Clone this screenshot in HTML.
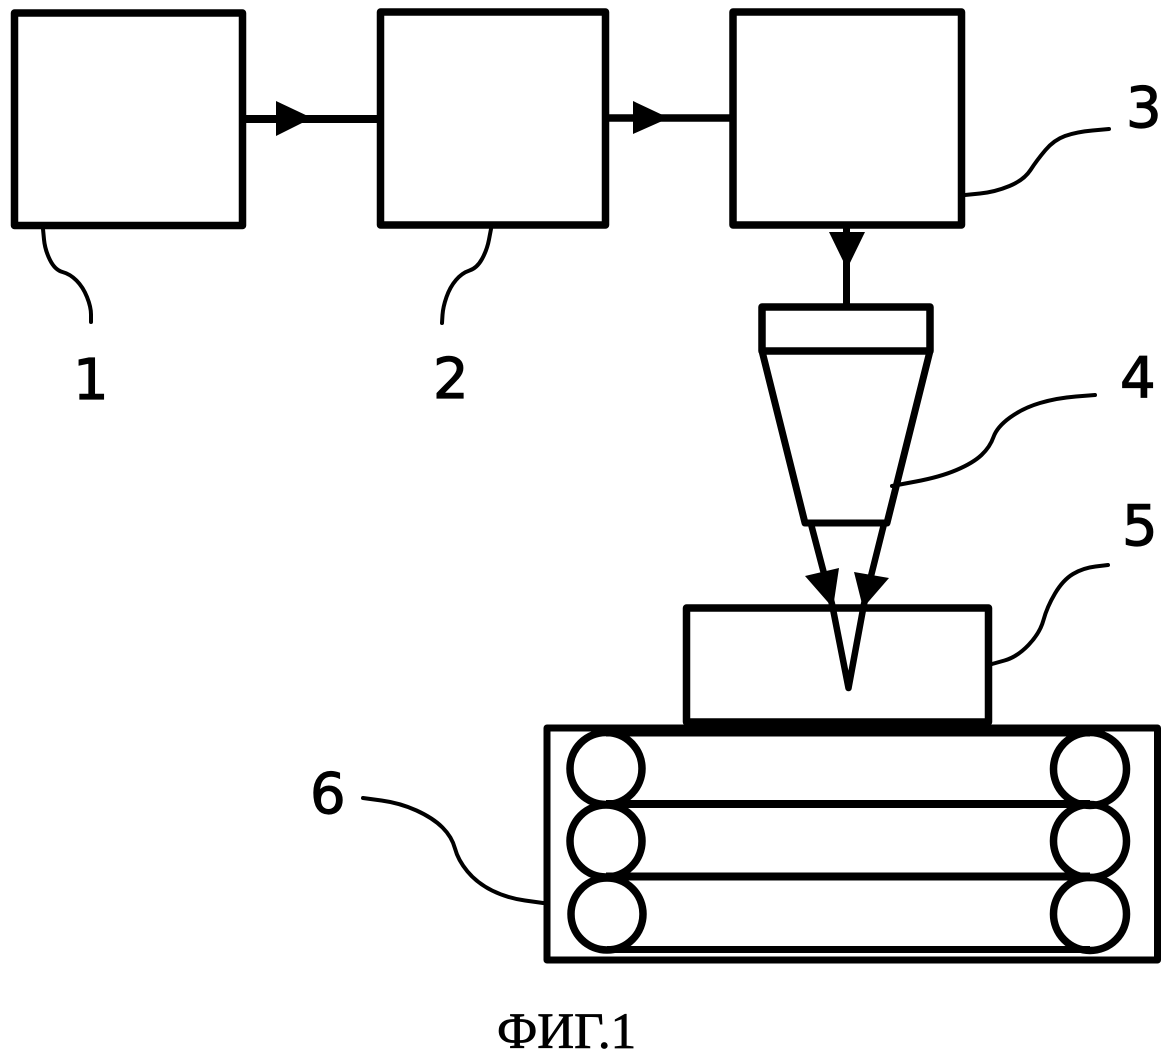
<!DOCTYPE html>
<html><head><meta charset="utf-8"><style>
html,body{margin:0;padding:0;background:#fff}
svg{display:block}
</style></head><body>
<svg width="1167" height="1056" viewBox="0 0 1167 1056" xmlns="http://www.w3.org/2000/svg">
<g fill="none" stroke="#000" stroke-width="7.5" stroke-linejoin="round">
<rect x="14.5" y="13" width="228" height="212.5"/>
<rect x="380.5" y="12" width="225" height="213"/>
<rect x="733" y="12" width="228.5" height="213"/>
<path d="M242 119H380" stroke-width="8"/>
<path d="M605 118H733"/>
<path d="M846.5 226V308" stroke-width="7"/>
<rect x="762" y="307" width="168" height="44"/>
<path d="M762 351L805 523H887L930 351" stroke-width="7"/>
<path d="M811 524L832 604L848.5 688L864 604L884 524" stroke-width="6.5"/>
<rect x="686.5" y="608" width="302" height="114"/>
<rect x="547" y="728" width="610.5" height="232" stroke-width="7"/>
<circle cx="606" cy="768.5" r="36"/>
<circle cx="606" cy="841" r="36"/>
<circle cx="607" cy="914" r="36"/>
<circle cx="1090" cy="769" r="36.5"/>
<circle cx="1090" cy="841" r="36.5"/>
<circle cx="1090" cy="914" r="36.5"/>
<path d="M606 733H1090" stroke-width="7"/>
<path d="M606 804H1090M606 876.5H1090" stroke-width="8"/>
<path d="M607 949.5H1090" stroke-width="7"/>
</g>
<g fill="#000">
<path d="M276 101L312 118L276 136Z"/>
<path d="M633 101L669 118L633 134Z"/>
<path d="M829 232H865L847 269Z"/>
<path d="M805 576L839 568L833 608Z"/>
<path d="M854 572L889 578L863 608Z"/>
</g>
<g fill="none" stroke="#000" stroke-width="4" stroke-linecap="round">
<path d="M43 229L44 239.5Q45 250 50 260Q55 270 62.5 272Q70 274 76.5 280.5Q83 287 87 297Q91 307 91 314.5L91 322"/>
<path d="M491 229L489 239.5Q487 250 482 259Q477 268 469.5 270.5Q462 273 456 280Q450 287 446.5 297Q443 307 442.5 315L442 323"/>
<path d="M965 195L980 193.5Q995 192 1009.5 186Q1024 180 1030.5 170Q1037 160 1045.5 150Q1054 140 1065 136Q1076 132 1092.5 130.5L1109 129"/>
<path d="M892 486L916 481.5Q940 477 956.5 470Q973 463 981.5 455Q990 447 993.5 437Q997 427 1010 417.5Q1023 408 1040 403Q1057 398 1076 396.5L1095 395"/>
<path d="M992 664L1004.5 660.5Q1017 657 1028.5 645Q1040 633 1043.5 620Q1047 607 1055 593.5Q1063 580 1073 574Q1083 568 1095.5 566.5L1108 565"/>
<path d="M363 798L381.5 800.5Q400 803 416.5 810.5Q433 818 442.5 827.5Q452 837 455 848.5Q458 860 467.5 871.5Q477 883 492 890.5Q507 898 525 900.5L543 903"/>
</g>
<g font-family="'DejaVu Sans','Liberation Sans',sans-serif" font-size="56" fill="#000" stroke="#000" stroke-width="1.2">
<text x="73" y="399">1</text>
<text x="433" y="398">2</text>
<text x="1126" y="127">3</text>
<text x="1120" y="397">4</text>
<text x="1122" y="545">5</text>
<text x="310" y="813">6</text>
</g>
<text x="497" y="1048" font-family="'Liberation Serif',serif" font-size="51" fill="#000" stroke="#000" stroke-width="0.8">ФИГ.1</text>
</svg>
</body></html>
